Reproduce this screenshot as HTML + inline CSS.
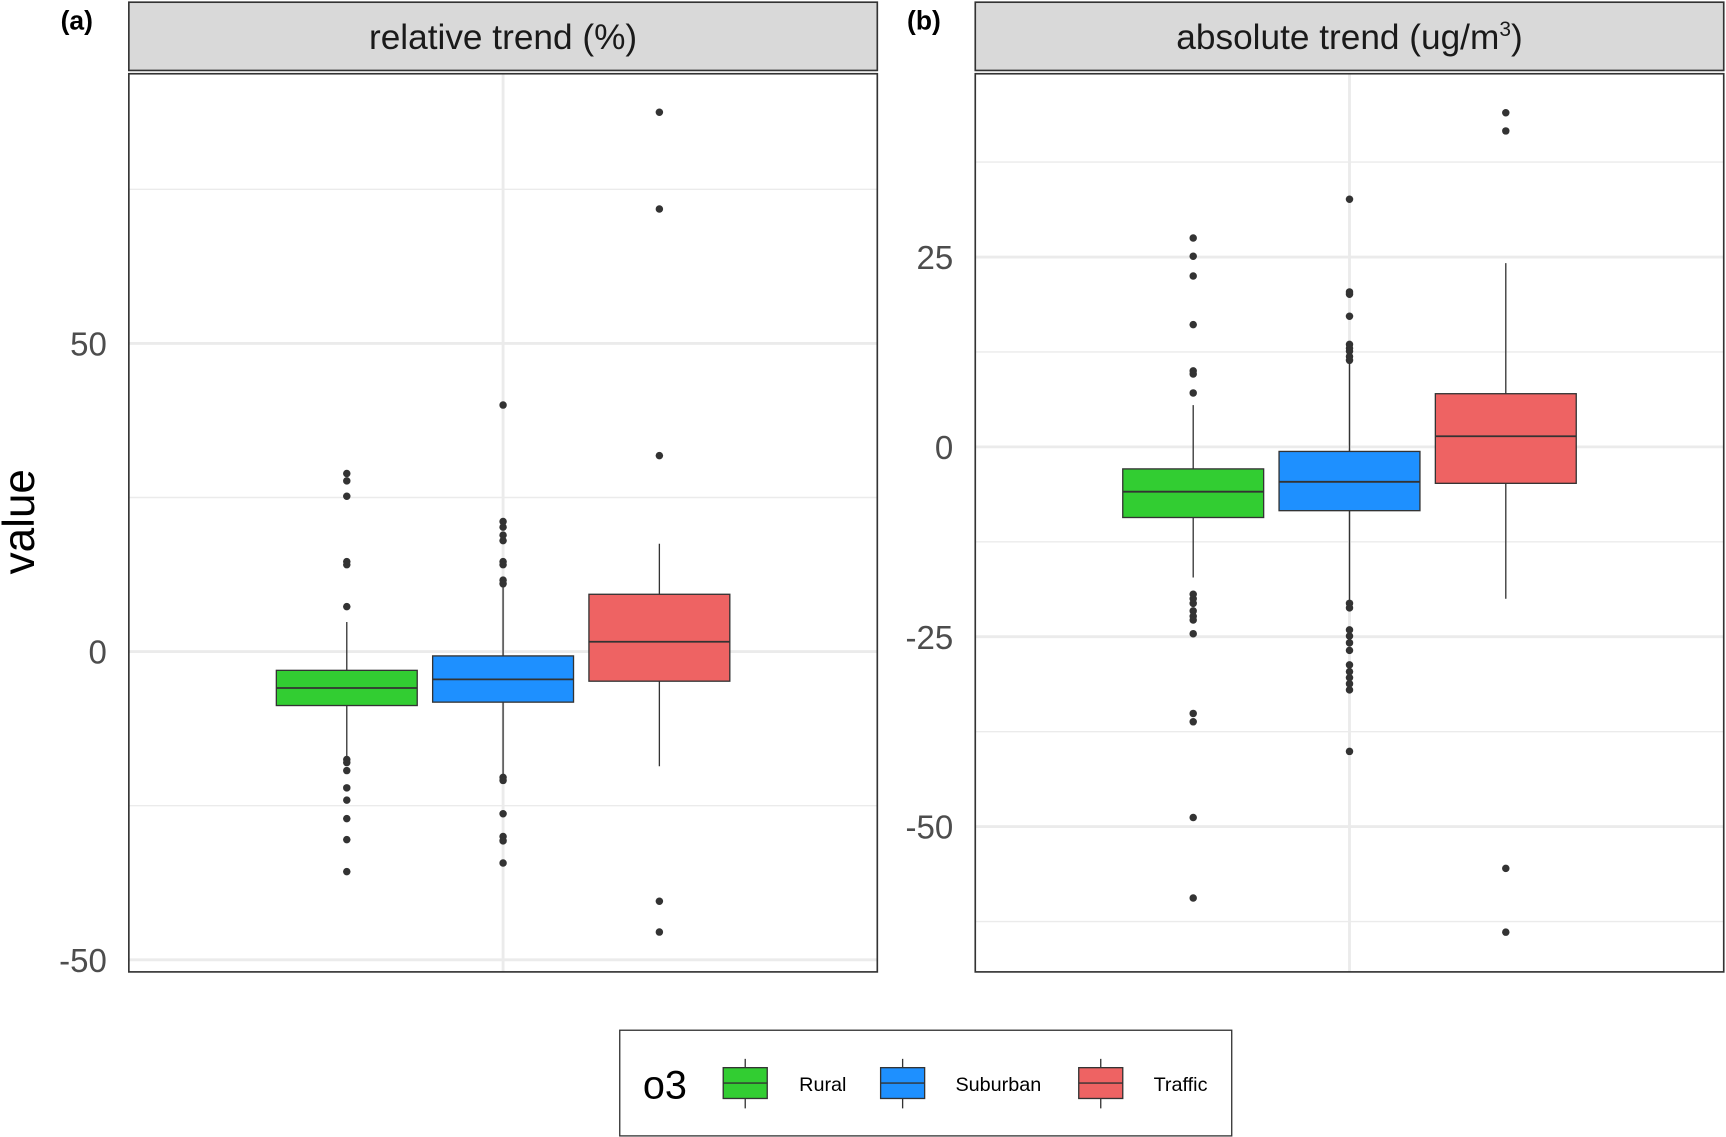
<!DOCTYPE html>
<html><head><meta charset="utf-8"><style>
html,body{margin:0;padding:0;background:#fff;}
svg{display:block;font-family:"Liberation Sans",sans-serif;}
</style></head><body>
<svg id="chart" width="1726" height="1137" viewBox="0 0 1568 1033">
</svg>
<script>
const groups = ["Rural","Suburban","Traffic"];
const colors = ["#32CD32","#1E90FF","#EE6363"];
// panel a: relative trend (%)
const relQ1 = [-8.75,-8.2,-4.8];
const relMed = [-5.9,-4.5,1.6];
const relQ3 = [-3.04,-0.7,9.3];
const relLo = [-17,-20,-18.6];
const relHi = [4.8,11,17.5];
const relOut = [
  [28.9,27.7,25.2,14.6,14.1,7.3,-17.5,-18,-19.3,-22.1,-24.1,-27.1,-30.5,-35.7],
  [40,21.1,20.2,18.9,18,14.6,14.1,11.6,11,-20.4,-20.9,-26.3,-30,-30.7,-34.3],
  [87.5,71.8,31.8,-40.5,-45.5]
];
const relTicks = [50,0,-50];
const relMinor = [75,25,-25];
// panel b: absolute trend (ug/m3)
const absQ1 = [-9.3,-8.4,-4.8];
const absMed = [-5.9,-4.6,1.4];
const absQ3 = [-2.9,-0.6,7];
const absLo = [-17.2,-20.3,-20];
const absHi = [5.5,11.3,24.2];
const absOut = [
  [27.5,25.1,22.5,16.1,10,9.6,7.1,-19.4,-20,-20.6,-21.6,-22.3,-22.8,-24.6,-35.1,-36.2,-48.8,-59.4],
  [32.6,20.4,20.1,17.2,13.5,13,12.6,11.9,11.4,-20.6,-21.2,-24.1,-24.9,-25.8,-26.8,-28.7,-29.6,-30.4,-31.2,-32,-40.1],
  [44,41.6,-55.5,-63.9]
];
const absTicks = [25,0,-25,-50];
const absMinor = [37.5,12.5,-12.5,-37.5,-62.5];

const NS="http://www.w3.org/2000/svg";
const svg=document.getElementById('chart');
function mk(tag,attrs,parent,text){const e=document.createElementNS(NS,tag);for(const k in attrs)e.setAttribute(k,attrs[k]);if(text!==undefined)e.textContent=text;(parent||svg).appendChild(e);return e;}

function panel(cfg){
  const {x0,x1,top,bottom,strip,label,tag,scaleY,ticks,minor,q1,med,q3,lo,hi,out,name}=cfg;
  const g=mk('g',{});
  
  
  const cx=(x0+x1)/2;
  const off=142, bw=128;
  minor.forEach(v=>{const l=mk('line',{x1:x0,x2:x1,y1:scaleY(v),y2:scaleY(v),stroke:'#ebebeb','stroke-width':1.3},g);
    
    });
  ticks.forEach(v=>{const y=scaleY(v);const l=mk('line',{x1:x0,x2:x1,y1:y,y2:y,stroke:'#ebebeb','stroke-width':2.6},g);
    
    
    const t=mk('text',{x:x0-20,y:y+11,'text-anchor':'end','font-size':30,fill:'#4d4d4d'},g,String(v));
    
    });
  const vl=mk('line',{x1:cx,x2:cx,y1:top,y2:bottom,stroke:'#ebebeb','stroke-width':2.6},g);
  
  
  groups.forEach((gname,i)=>{
    const c=cx+(i-1)*off;
    const bg=mk('g',{},g);
    
    
    mk('line',{x1:c,x2:c,y1:scaleY(hi[i]),y2:scaleY(q3[i]),stroke:'#333','stroke-width':1.2},bg);
    mk('line',{x1:c,x2:c,y1:scaleY(q1[i]),y2:scaleY(lo[i]),stroke:'#333','stroke-width':1.2},bg);
    mk('rect',{x:c-bw/2,y:scaleY(q3[i]),width:bw,height:scaleY(q1[i])-scaleY(q3[i]),fill:colors[i],stroke:'#333','stroke-width':1.2},bg);
    mk('line',{x1:c-bw/2,x2:c+bw/2,y1:scaleY(med[i]),y2:scaleY(med[i]),stroke:'#333','stroke-width':1.6},bg);
    out[i].forEach(v=>{const p=mk('circle',{cx:c,cy:scaleY(v),r:3.4,fill:'#333'},bg);
      
      });
  });
  const fr=mk('rect',{x:x0,y:top,width:x1-x0,height:bottom-top,fill:'none',stroke:'#333','stroke-width':1.5},g);
  
  
  const sr=mk('rect',{x:x0,y:strip,width:x1-x0,height:top-strip-3,fill:'#d9d9d9',stroke:'#333','stroke-width':1.5},g);
  
  
  const st=mk('text',{x:cx,y:(strip+top)/2+10,'text-anchor':'middle','font-size':32,fill:'#1a1a1a'},g);
  
  
  st.innerHTML=label;
  const tg=mk('text',{x:x0-62,y:27,'font-size':24,'font-weight':'bold',fill:'#000'},g,tag);
  
  
}
panel({x0:117,x1:797,top:67,bottom:883,strip:2,label:'relative trend (%)',tag:'(a)',
  scaleY:v=>592-v*5.6,ticks:relTicks,minor:relMinor,q1:relQ1,med:relMed,q3:relQ3,lo:relLo,hi:relHi,out:relOut,name:'panel-relative-trend'});
panel({x0:886,x1:1566,top:67,bottom:883,strip:2,label:'absolute trend (ug/m<tspan font-size="19" dy="-12">3</tspan><tspan dy="12">)</tspan>',tag:'(b)',
  scaleY:v=>406-v*6.9,ticks:absTicks,minor:absMinor,q1:absQ1,med:absMed,q3:absQ3,lo:absLo,hi:absHi,out:absOut,name:'panel-absolute-trend'});

const yt=mk('text',{x:31,y:474,'font-size':40,fill:'#000','text-anchor':'middle',transform:'rotate(-90 31 474)'},svg,'value');



// legend
const lg=mk('g',{});


mk('rect',{x:563,y:936,width:556,height:96,fill:'#fff',stroke:'#333','stroke-width':1.2},lg);
const lt=mk('text',{x:584,y:998,'font-size':36,fill:'#000'},lg,'o3');


const lx=[657,800,980], tx=[726,868,1048];
groups.forEach((gname,i)=>{
  const e=mk('g',{},lg);
  
  
  const c=lx[i]+20;
  mk('line',{x1:c,x2:c,y1:962,y2:1007,stroke:'#333','stroke-width':1.2},e);
  mk('rect',{x:lx[i],y:970,width:40,height:28,fill:colors[i],stroke:'#333','stroke-width':1.2},e);
  mk('line',{x1:lx[i],x2:lx[i]+40,y1:984,y2:984,stroke:'#333','stroke-width':1.2},e);
  mk('text',{x:tx[i],y:991,'font-size':18,fill:'#000'},e,gname);
});
</script>
</body></html>
